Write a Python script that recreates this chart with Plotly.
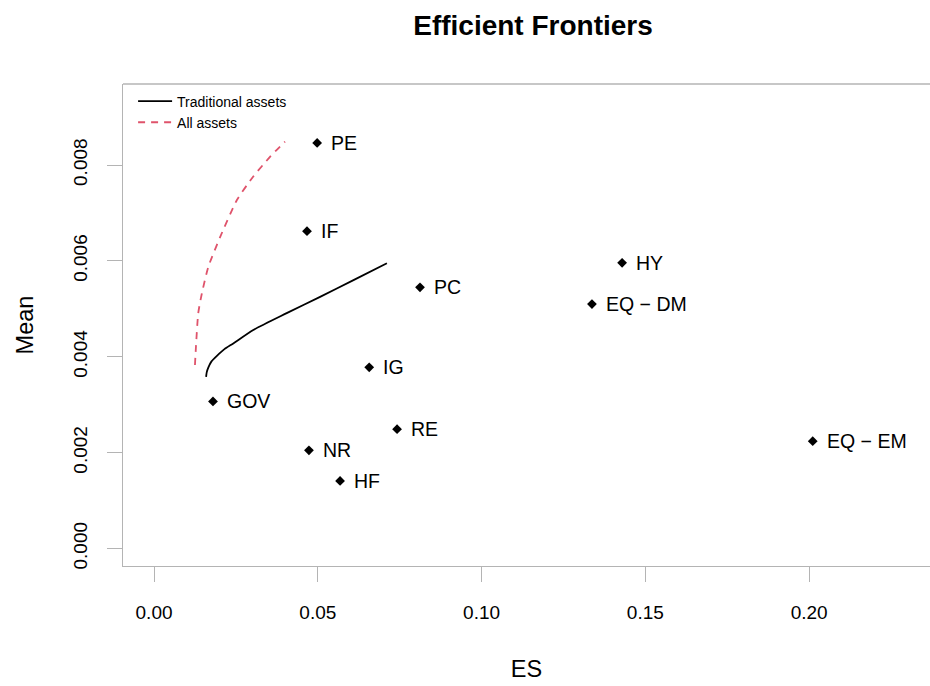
import plotly.graph_objects as go

# Asset classes: expected shortfall (ES) and mean return
assets = ["PE", "IF", "PC", "HY", "EQ − DM", "IG", "GOV", "RE", "NR", "HF", "EQ − EM"]
asset_es = [0.0498, 0.0467, 0.0812, 0.1429, 0.1337, 0.0657, 0.0180, 0.0742, 0.0473, 0.0568, 0.2011]
asset_mean = [0.00846, 0.00662, 0.00545, 0.00596, 0.00510, 0.00378, 0.00307, 0.00249, 0.00205, 0.00141, 0.00224]

# Efficient frontier using traditional assets only
trad_es = [0.0159, 0.0161, 0.0166, 0.0175, 0.0192, 0.0215, 0.0242, 0.0303, 0.0405, 0.0507, 0.0609, 0.0711]
trad_mean = [0.00358, 0.00368, 0.00378, 0.00390, 0.00402, 0.00416, 0.00428, 0.00456, 0.00491, 0.00525, 0.00560, 0.00595]

# Efficient frontier using all assets
all_es = [0.0125, 0.0128, 0.0135, 0.0146, 0.0166, 0.0202, 0.0253, 0.0303, 0.0354, 0.0400]
all_mean = [0.00383, 0.00421, 0.00491, 0.00532, 0.00588, 0.00650, 0.00727, 0.00776, 0.00817, 0.00849]

x_ticks = [0.00, 0.05, 0.10, 0.15, 0.20]
x_tick_text = ["0.00", "0.05", "0.10", "0.15", "0.20"]
y_ticks = [0.000, 0.002, 0.004, 0.006, 0.008]
y_tick_text = ["0.000", "0.002", "0.004", "0.006", "0.008"]

FONT = "Liberation Sans, Arial, Helvetica, sans-serif"
AXIS_GREY = "#b4b4b4"

fig = go.Figure()

fig.add_trace(go.Scatter(
    x=trad_es, y=trad_mean, mode="lines", name="Traditional assets",
    line=dict(color="black", width=1.8, shape="spline", smoothing=0.6),
))
fig.add_trace(go.Scatter(
    x=all_es, y=all_mean, mode="lines", name="All assets",
    line=dict(color="#DF536B", width=1.8, dash="7px,6px", shape="spline", smoothing=0.6),
))
fig.add_trace(go.Scatter(
    x=asset_es, y=asset_mean, mode="markers", showlegend=False,
    marker=dict(symbol="diamond", size=7.5, color="black"),
    hoverinfo="text", text=assets,
))

# asset names to the right of each marker
for name, xv, yv in zip(assets, asset_es, asset_mean):
    fig.add_annotation(
        x=xv, y=yv, text=name, showarrow=False, xanchor="left", yanchor="middle",
        xshift=12, font=dict(family=FONT, size=19.5, color="black"),
    )

# top border of the plotting box (left/bottom come from the axis lines)
fig.add_shape(type="line", xref="paper", yref="paper", x0=0, x1=1, y0=1, y1=1,
              line=dict(color=AXIS_GREY, width=1.3))

fig.update_layout(
    width=930, height=686,
    margin=dict(l=123, r=0, t=84, b=120),
    paper_bgcolor="white", plot_bgcolor="white",
    title=dict(text="<b>Efficient Frontiers</b>", x=533 / 930, xanchor="center",
               y=1 - 25 / 686, yanchor="middle",
               font=dict(family=FONT, size=28, color="black")),
    font=dict(family=FONT, color="black"),
    showlegend=True,
    legend=dict(x=0.0125, y=0.997, xanchor="left", yanchor="top",
                bgcolor="rgba(0,0,0,0)", font=dict(family=FONT, size=14),
                itemwidth=34, tracegroupgap=0),
)

fig.update_xaxes(
    range=[-0.00947, 0.2369], tickvals=x_ticks, ticktext=x_tick_text,
    showgrid=False, zeroline=False, showline=True, linecolor=AXIS_GREY, linewidth=1.3,
    ticks="outside", ticklen=15, tickcolor=AXIS_GREY, tickwidth=1.3,
    tickfont=dict(family=FONT, size=19, color="black"), ticklabelstandoff=14,
    title=dict(text="ES", font=dict(family=FONT, size=23.5, color="black"), standoff=38),
)
fig.update_yaxes(
    range=[-0.000363, 0.00969], tickvals=y_ticks, ticktext=y_tick_text,
    showgrid=False, zeroline=False, showline=True, linecolor=AXIS_GREY, linewidth=1.3,
    ticks="outside", ticklen=15, tickcolor=AXIS_GREY, tickwidth=1.3, tickangle=-90,
    tickfont=dict(family=FONT, size=19, color="black"), ticklabelstandoff=12,
    title=dict(text="Mean", font=dict(family=FONT, size=23.5, color="black"), standoff=30),
)

fig.write_html("out.html")
